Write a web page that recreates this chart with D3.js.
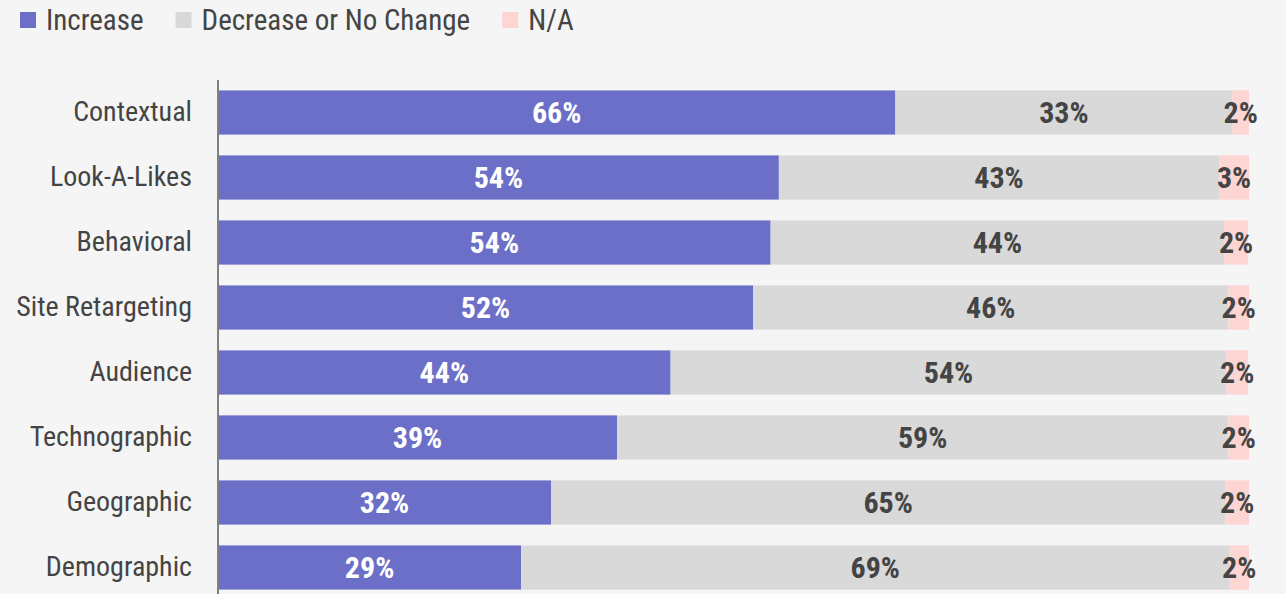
<!DOCTYPE html>
<html>
<head>
<meta charset="utf-8">
<script src="https://cdn.jsdelivr.net/npm/d3@7"></script>
<style>
  body { margin: 0; background: #f4f5f4; }
  text { font-family: "Roboto Condensed", Roboto, sans-serif; }
</style>
</head>
<body>
<div id="chart"></div>
<script>
var width = 1286, height = 594

// DATA
const categories = ["Contextual", "Look-A-Likes", "Behavioral", "Site Retargeting",
                    "Audience", "Technographic", "Geographic", "Demographic"]
const increase = [65.7, 54.4, 53.6, 51.9, 43.9, 38.7, 32.3, 29.4]
const decrease = [32.7, 42.7, 44.0, 46.1, 53.9, 59.3, 65.4, 68.7]
const na       = [1.6, 2.9, 2.3, 2.0, 2.1, 2.0, 2.3, 1.9]
const seriesNames = ["Increase", "Decrease or No Change", "N/A"]

// COLORS
const bg = '#f4f5f4'
const dark = '#444444'
const colors = ['#6b6fc7', '#d9d9d9', '#fdd5d3']
const labelColors = ['#ffffff', dark, dark]

var rows = categories.map(function(c, i) {
  return {cat: c, "Increase": increase[i], "Decrease or No Change": decrease[i], "N/A": na[i]}
})
var stack = d3.stack().keys(seriesNames)(rows)

// SCALES
var x = d3.scaleLinear().domain([0, 100]).range([218, 1249])
var y = d3.scaleBand().domain(categories).range([80, 600])
          .paddingInner(0.32).paddingOuter(0.16)

var svg = d3.select('#chart').append('svg')
    .attr('width', width)
    .attr('height', height)

svg.append('rect').attr('width', width).attr('height', height).attr('fill', bg)

// bars
var layers = svg.append('g').selectAll('g')
    .data(stack)
    .enter().append('g')
      .attr('fill', function(d, i) { return colors[i] })

layers.selectAll('rect')
    .data(function(d) { return d })
    .enter().append('rect')
      .attr('x', function(d) { return x(d[0]) })
      .attr('width', function(d) { return x(d[1]) - x(d[0]) })
      .attr('y', function(d) { return y(d.data.cat) })
      .attr('height', y.bandwidth())

// value labels
stack.forEach(function(s, si) {
  svg.append('g').selectAll('text')
    .data(s)
    .enter().append('text')
      .attr('x', function(d) { return (x(d[0]) + x(d[1])) / 2 })
      .attr('y', function(d) { return y(d.data.cat) + y.bandwidth() / 2 })
      .attr('text-anchor', 'middle')
      .attr('dy', '0.36em')
      .attr('font-size', 30)
      .attr('font-weight', 'bold')
      .attr('fill', labelColors[si])
      .text(function(d) { return d3.format('.0f')(d[1] - d[0]) + '%' })
})

// y axis
var yAxis = d3.axisLeft(y).tickSize(0).tickPadding(26)
var ag = svg.append('g').attr('transform', 'translate(218,0)').call(yAxis)
ag.select('.domain').remove()
ag.append('line')
    .attr('y1', 80).attr('y2', height)
    .attr('stroke', '#808080').attr('stroke-width', 2)
ag.selectAll('.tick text')
    .attr('font-family', null)
    .attr('font-size', 28)
    .attr('fill', dark)

// legend
var legend = svg.append('g').attr('transform', 'translate(20,20)')
var lx = 0
seriesNames.forEach(function(name, i) {
  var item = legend.append('g').attr('transform', `translate(${lx},0)`)
  item.append('rect')
      .attr('y', -8).attr('width', 16).attr('height', 16)
      .attr('fill', colors[i])
  var t = item.append('text')
      .attr('x', 26)
      .attr('dy', '0.36em')
      .attr('font-size', 29)
      .attr('fill', dark)
      .text(name)
  lx += 26 + t.node().getComputedTextLength() + 32
})
</script>
</body>
</html>
